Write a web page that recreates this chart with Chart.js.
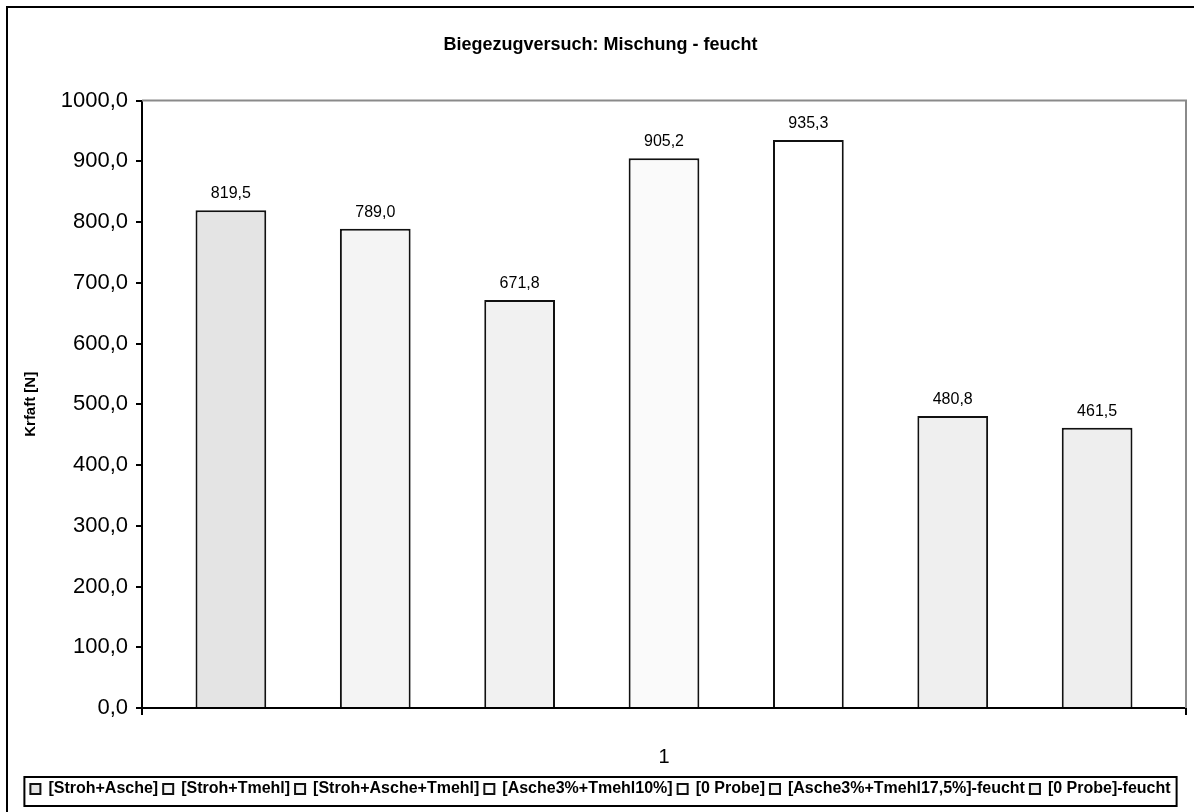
<!DOCTYPE html>
<html>
<head>
<meta charset="utf-8">
<script src="https://cdn.jsdelivr.net/npm/chart.js@4.4.1/dist/chart.umd.min.js"></script>
<style>
	html, body { margin: 0; padding: 0; background: #fff; }
	#chart { display: block; }
</style>
</head>
<body>
<canvas id="chart" width="1194" height="812"></canvas>
<script>
// ── Data ──────────────────────────────────────────────────────────────────
var categories = ["1"];
var seriesNames = [
	"[Stroh+Asche]",
	"[Stroh+Tmehl]",
	"[Stroh+Asche+Tmehl]",
	"[Asche3%+Tmehl10%]",
	"[0 Probe]",
	"[Asche3%+Tmehl17,5%]-feucht",
	"[0 Probe]-feucht",
];
var seriesValues = [819.5, 789.0, 671.8, 905.2, 935.3, 480.8, 461.5];
var seriesColors = ["#e4e4e4", "#f4f4f4", "#f1f1f1", "#fafafa", "#ffffff", "#efefef", "#eeeeee"];
var yMin = 0, yMax = 1000, yStep = 100;

var FONT = "'Liberation Sans', Arial, sans-serif";

var fmt = function (v) {
	return Number(v).toFixed(1).replace(".", ",");
};

// ── Plugins ───────────────────────────────────────────────────────────────
var framePlugin = {
	id: "frame",
	beforeDraw: function (chart) {
		var ctx = chart.ctx;
		ctx.save();
		ctx.fillStyle = "#fff";
		ctx.fillRect(0, 0, chart.width, chart.height);
		ctx.strokeStyle = "#000";
		ctx.lineWidth = 2;
		ctx.strokeRect(7, 7, chart.width + 10, chart.height + 10);
		ctx.restore();
	},
	afterDraw: function (chart) {
		var ctx = chart.ctx;
		var a = chart.chartArea;
		ctx.save();
		// grey top / right edge of plot area
		ctx.strokeStyle = "#8a8a8a";
		ctx.lineWidth = 2;
		ctx.beginPath();
		ctx.moveTo(a.left, a.top);
		ctx.lineTo(a.right, a.top);
		ctx.lineTo(a.right, a.bottom);
		ctx.stroke();
		// box around legend
		var lg = chart.legend;
		if (lg && lg.legendHitBoxes && lg.legendHitBoxes.length) {
			var l = Infinity, r = -Infinity;
			lg.legendHitBoxes.forEach(function (h) {
				l = Math.min(l, h.left);
				r = Math.max(r, h.left + h.width);
			});
			ctx.strokeStyle = "#000";
			ctx.lineWidth = 2;
			ctx.strokeRect(l - 6, lg.top + 1, r - l + 12, lg.bottom - lg.top - 2);
		}
		ctx.restore();
	},
};

var valueLabels = {
	id: "valueLabels",
	afterDatasetsDraw: function (chart) {
		var ctx = chart.ctx;
		ctx.save();
		ctx.font = "16px " + FONT;
		ctx.fillStyle = "#000";
		ctx.textAlign = "center";
		ctx.textBaseline = "alphabetic";
		chart.data.datasets.forEach(function (ds, i) {
			var meta = chart.getDatasetMeta(i);
			meta.data.forEach(function (bar, j) {
				ctx.fillText(fmt(ds.data[j]), bar.x, bar.y - 12);
			});
		});
		ctx.restore();
	},
};

// ── Chart ─────────────────────────────────────────────────────────────────
var datasets = seriesNames.map(function (name, i) {
	return {
		label: name,
		data: [seriesValues[i]],
		backgroundColor: seriesColors[i],
		borderColor: "#111",
		borderWidth: 2,
		categoryPercentage: 0.968,
		barPercentage: 0.49,
	};
});

new Chart(document.getElementById("chart"), {
	type: "bar",
	data: { labels: categories, datasets: datasets },
	plugins: [framePlugin, valueLabels],
	options: {
		responsive: false,
		devicePixelRatio: 1,
		animation: false,
		layout: { padding: { left: 15, right: 8, top: 0, bottom: 5 } },
		plugins: {
			tooltip: { enabled: false },
			title: {
				display: true,
				text: "Biegezugversuch: Mischung - feucht",
				color: "#000",
				font: { family: FONT, size: 18, weight: "bold" },
				padding: { top: 34, bottom: 45 },
			},
			legend: {
				position: "bottom",
				labels: {
					color: "#000",
					font: { family: FONT, size: 16, weight: "bold" },
					boxWidth: 10,
					boxHeight: 10,
					padding: 5,
				},
			},
		},
		scales: {
			x: {
				grid: { offset: true, drawOnChartArea: false, color: "#000", tickLength: 7, lineWidth: 2 },
				border: { color: "#000", width: 2 },
				ticks: {
					color: "#000",
					padding: 30,
					font: { family: FONT, size: 20 },
				},
				afterFit: function (s) { s.height = 68; },
			},
			y: {
				min: yMin,
				max: yMax,
				grid: { drawOnChartArea: false, color: "#000", tickLength: 6, lineWidth: 2 },
				border: { color: "#000", width: 2 },
				ticks: {
					stepSize: yStep,
					color: "#000",
					padding: 8,
					font: { family: FONT, size: 22 },
					callback: function (v) { return fmt(v); },
				},
				title: {
					display: true,
					text: "Krfaft [N]",
					color: "#000",
					font: { family: FONT, size: 15, weight: "bold" },
					padding: { top: 7, bottom: 0 },
				},
				afterFit: function (s) { s.width = 127; },
			},
		},
	},
});
</script>
</body>
</html>
